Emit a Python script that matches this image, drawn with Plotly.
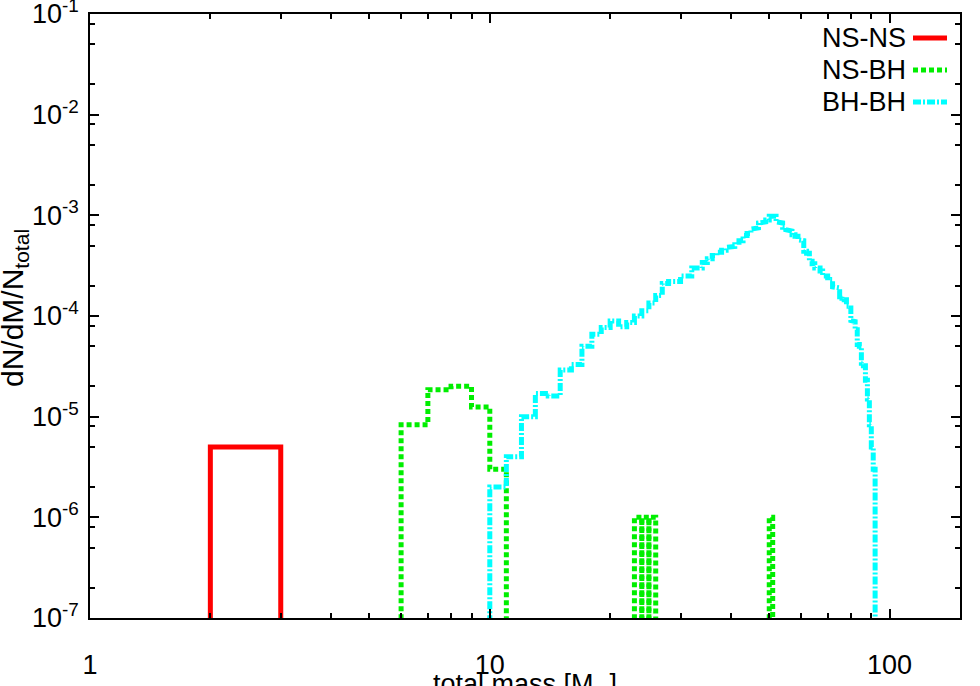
import plotly.graph_objects as go
import math

# ---------------- data ----------------
# NS-NS histogram (bin edges in M_sun, dN/dM/N_total)
nsns_edges = [2, 3]
nsns_vals = [5.0e-6]

# NS-BH histogram: main contiguous block
nsbh_edges = [6, 7, 8, 9, 10, 11]
nsbh_vals = [8.3e-6, 1.85e-5, 2.0e-5, 1.25e-5, 3.0e-6]
# NS-BH isolated single-count bins (width 1)
nsbh_single_lo = [23, 24, 25, 50]
nsbh_single_vals = [1.0e-6, 1.0e-6, 1.0e-6, 1.0e-6]

# BH-BH histogram, bins of width 1 from 10 to 92
bhbh_lo = 10
bhbh_vals = [
    2.0e-6, 4.0e-6, 1.0e-5, 1.7e-5, 1.6e-5, 2.9e-5, 3.3e-5, 5.0e-5, 6.6e-5, 7.7e-5,   # 10-19
    8.9e-5, 7.8e-5, 8.6e-5, 1.0e-4, 1.13e-4, 1.35e-4, 1.6e-4, 2.1e-4, 2.2e-4, 2.2e-4,  # 20-29
    2.5e-4, 2.5e-4, 3.0e-4, 3.0e-4, 3.4e-4, 3.7e-4, 4.0e-4, 4.3e-4, 4.5e-4, 4.8e-4,    # 30-39
    4.9e-4, 5.4e-4, 5.6e-4, 6.3e-4, 6.6e-4, 7.3e-4, 7.5e-4, 8.4e-4, 8.6e-4, 9.0e-4,    # 40-49
    9.8e-4, 9.8e-4, 8.6e-4, 8.4e-4, 7.6e-4, 7.2e-4, 7.0e-4, 6.4e-4, 6.2e-4, 5.7e-4,    # 50-59
    5.6e-4, 4.4e-4, 4.2e-4, 3.5e-4, 3.3e-4, 3.0e-4, 3.0e-4, 2.8e-4, 2.5e-4, 2.5e-4,    # 60-69
    2.4e-4, 2.3e-4, 1.95e-4, 1.95e-4, 1.9e-4, 1.55e-4, 1.5e-4, 1.45e-4, 1.25e-4, 1.2e-4,  # 70-79
    9.0e-5, 8.8e-5, 7.3e-5, 5.2e-5, 5.0e-5, 3.4e-5, 3.2e-5, 2.3e-5, 1.5e-5, 8.3e-6,    # 80-89
    5.0e-6, 3.0e-6,                                                                    # 90-91
]

series_names = ["NS-NS", "NS-BH", "BH-BH"]
y_tick_exps = [-7, -6, -5, -4, -3, -2, -1]
x_tick_vals = [1, 10, 100]

FLOOR = 1e-9  # below the visible range: the "zero" level of the histogram


def step_path(edges, vals):
    """Histogram outline from floor, through steps, back to floor."""
    xs, ys = [edges[0]], [FLOOR]
    for i, v in enumerate(vals):
        xs += [edges[i], edges[i + 1]]
        ys += [v, v]
    xs.append(edges[-1])
    ys.append(FLOOR)
    return xs, ys


# NS-NS
nsns_x, nsns_y = step_path(nsns_edges, nsns_vals)

# NS-BH
nsbh_x, nsbh_y = step_path(nsbh_edges, nsbh_vals)
for lo, v in zip(nsbh_single_lo, nsbh_single_vals):
    sx, sy = step_path([lo, lo + 1], [v])
    nsbh_x += [None] + sx
    nsbh_y += [None] + sy

# BH-BH
bh_edges = [bhbh_lo + i for i in range(len(bhbh_vals) + 1)]
bhbh_x, bhbh_y = step_path(bh_edges, bhbh_vals)

RED = "#ff0000"
GREEN = "#00ee00"
CYAN = "#00ffff"
FONT = "Liberation Sans, Arial, sans-serif"
FS = 27

fig = go.Figure()
fig.add_trace(go.Scatter(x=nsns_x, y=nsns_y, mode="lines", name=series_names[0],
                         line=dict(color=RED, width=5), showlegend=False))
fig.add_trace(go.Scatter(x=nsbh_x, y=nsbh_y, mode="lines", name=series_names[1],
                         line=dict(color=GREEN, width=5, dash="5px,3px"), showlegend=False))
fig.add_trace(go.Scatter(x=bhbh_x, y=bhbh_y, mode="lines", name=series_names[2],
                         line=dict(color=CYAN, width=5, dash="8px,2px,2px,2px"), showlegend=False))

W, H = 980, 686
L, R, T, B = 90, 20, 14, 68
pw, ph = W - L - R, H - T - B


def px_to_paper(px, py):
    return (px - L) / pw, (H - B - py) / ph


# Custom legend (text on the left, line sample on the right)
legend_rows = [38, 70, 102]
legend_styles = [dict(color=RED, width=5),
                 dict(color=GREEN, width=5, dash="5px,3px"),
                 dict(color=CYAN, width=5, dash="8px,2px,2px,2px")]
shapes = []
annotations = []
for name, row, st in zip(series_names, legend_rows, legend_styles):
    tx, ty = px_to_paper(907, row)
    annotations.append(dict(text=name, x=tx, y=ty, xref="paper", yref="paper",
                            xanchor="right", yanchor="middle", showarrow=False, borderpad=0,
                            font=dict(family=FONT, size=FS, color="black")))
    x0, _ = px_to_paper(913, row)
    x1, _ = px_to_paper(947, row)
    shapes.append(dict(type="line", xref="paper", yref="paper", x0=x0, x1=x1,
                       y0=ty, y1=ty, line=st))

# axis titles
ax, ay = px_to_paper(14, 308)
annotations.append(dict(text="dN/dM/N<sub>total</sub>", x=ax, y=ay, xref="paper", yref="paper",
                        xanchor="center", yanchor="middle", textangle=-90, showarrow=False,
                        borderpad=0, font=dict(family=FONT, size=30, color="black")))
bx, by = px_to_paper(525, 668)
annotations.append(dict(text="total mass [M<sub>⊙</sub>]", x=bx, y=by, xref="paper", yref="paper",
                        xanchor="center", yanchor="top", showarrow=False, borderpad=0,
                        font=dict(family=FONT, size=FS, color="black")))

y_minor = [m * 10.0 ** e for e in range(-7, -1) for m in (2, 5, 8)]

fig.update_layout(
    width=W, height=H,
    margin=dict(l=L, r=R, t=T, b=B, autoexpand=False),
    paper_bgcolor="white", plot_bgcolor="white",
    showlegend=False,
    shapes=shapes, annotations=annotations,
    font=dict(family=FONT, size=FS, color="black"),
    xaxis=dict(type="log", range=[0, math.log10(150)], automargin=False,
               tickvals=x_tick_vals, ticktext=[str(v) for v in x_tick_vals],
               ticks="inside", ticklen=9, tickwidth=1.5, tickcolor="black",
               showline=True, linecolor="black", linewidth=1.5, mirror="allticks",
               showgrid=False, zeroline=False, ticklabelstandoff=22,
               ticklabeloverflow="allow",
               minor=dict(ticks="inside", ticklen=5, tickwidth=1.5, tickcolor="black",
                          dtick="D1", showgrid=False)),
    yaxis=dict(type="log", range=[-7, -1], automargin=False,
               tickvals=[10.0 ** e for e in y_tick_exps],
               ticktext=["10<sup>%d</sup>" % e for e in y_tick_exps],
               ticks="inside", ticklen=9, tickwidth=1.5, tickcolor="black",
               showline=True, linecolor="black", linewidth=1.5, mirror="allticks",
               showgrid=False, zeroline=False, ticklabelstandoff=4,
               ticklabeloverflow="allow",
               minor=dict(ticks="inside", ticklen=5, tickwidth=1.5, tickcolor="black",
                          tickvals=y_minor, showgrid=False)),
)

fig.write_html("out.html", config={"displayModeBar": False},
               post_script="document.body.style.margin='0';")
